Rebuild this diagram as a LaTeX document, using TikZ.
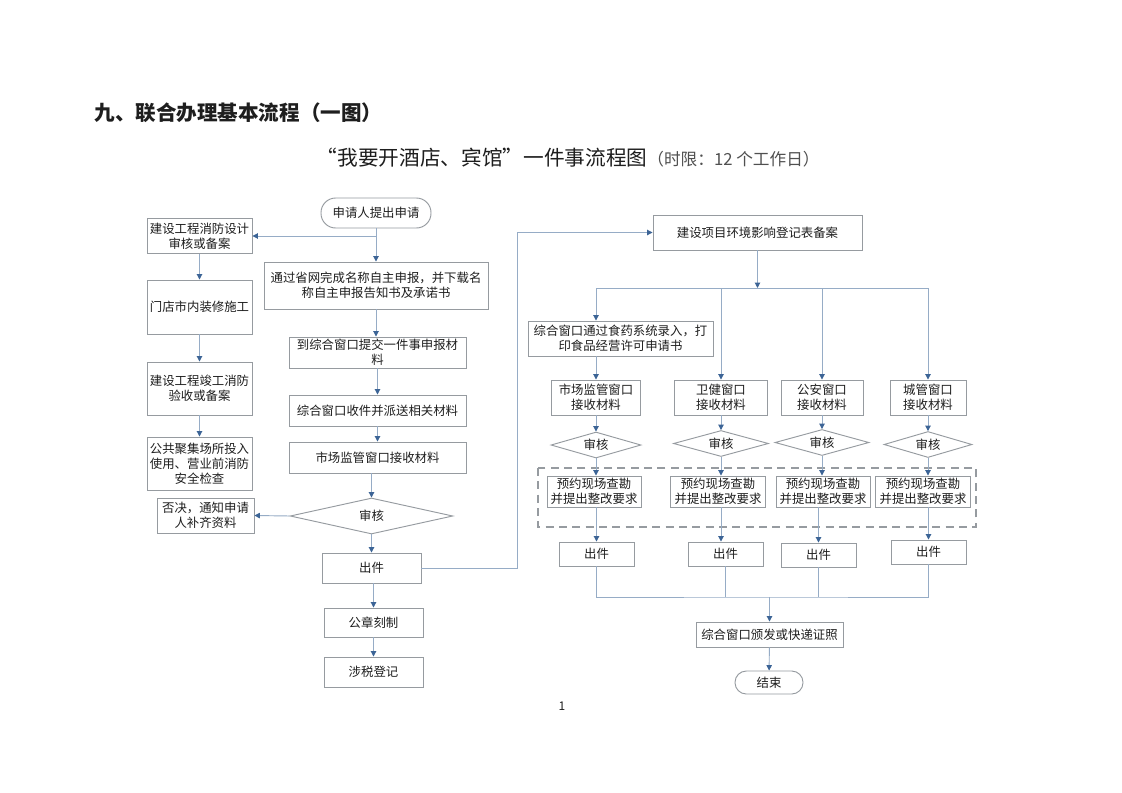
\documentclass[tikz,border=0pt]{standalone}
\usepackage{fontspec}
\setmainfont{Noto Sans CJK SC}
\usetikzlibrary{arrows.meta,shapes.geometric}
\definecolor{linkblue}{RGB}{150,172,198}
\definecolor{tipblue}{RGB}{60,100,150}
\definecolor{boxgray}{RGB}{150,155,160}
\definecolor{textdark}{RGB}{30,30,30}
\definecolor{subgray}{RGB}{80,80,80}

\begin{document}
\begin{tikzpicture}[x=0.75pt,y=-0.75pt]
\tikzset{
  box/.style={draw=boxgray, line width=0.7pt, inner sep=0pt, align=center,
    text=textdark, font=\fontsize{9.3}{11.3}\selectfont},
  startend/.style={box, rounded corners=11pt},
  decision/.style={box, diamond, aspect=4},
  link/.style={draw=linkblue, line width=0.7pt},
  arr/.style={link, -{Triangle[width=4pt,length=4pt,color=tipblue]}},
  dashbox/.style={draw=boxgray, line width=0.8pt, dash pattern=on 6pt off 4pt}
}
\useasboundingbox (0,0) rectangle (1122,793);
\fill[white] (0,0) rectangle (1122,793);

% titles
\node[anchor=west, text=textdark, font=\fontsize{15.4}{18}\selectfont\bfseries] (title) at (90,113) {九、联合办理基本流程（一图）};
\node[anchor=west, text=textdark, font=\fontsize{15.5}{18}\selectfont] (subtitle) at (312,158)
  {“我要开酒店、宾馆”一件事流程图{\fontsize{12.5}{15}\selectfont\color{subgray}（时限：12 个工作日）}};

% fire safety column
\node[box, minimum width=78.75pt, minimum height=26.25pt] (fdesign) at (199.5,236) {建设工程消防设计\\审核或备案};
\node[box, minimum width=78.75pt, minimum height=40.5pt] (decor) at (199.5,307) {门店市内装修施工};
\node[box, minimum width=78.75pt, minimum height=39.75pt] (faccept) at (199.5,388.5) {建设工程竣工消防\\验收或备案};
\node[box, minimum width=78.75pt, minimum height=39.75pt] (fcheck) at (199.5,463.5) {公共聚集场所投入\\使用、营业前消防\\安全检查};
\node[box, minimum width=72.75pt, minimum height=26.25pt] (reject) at (205.5,515.5) {否决，通知申请\\人补齐资料};

% main column
\node[startend, minimum width=82.5pt, minimum height=22.5pt] (apply) at (376,213) {申请人提出申请};
\node[box, minimum width=168pt, minimum height=35.25pt] (name) at (376,285.5) {通过省网完成名称自主申报，并下载名\\称自主申报告知书及承诺书};
\node[box, minimum width=132.75pt, minimum height=23.25pt] (submit) at (377.5,352.5) {到综合窗口提交一件事申报材\\料};
\node[box, minimum width=132.75pt, minimum height=23.25pt] (dispatch) at (377.5,410.5) {综合窗口收件并派送相关材料};
\node[box, minimum width=132.75pt, minimum height=23.25pt] (market) at (377.5,457.5) {市场监管窗口接收材料};
\node[decision, minimum width=122pt, minimum height=27pt] (audit) at (371.5,516) {审核};
\node[box, minimum width=74.25pt, minimum height=22.5pt] (issue) at (371.5,568) {出件};
\node[box, minimum width=74.25pt, minimum height=21.75pt] (seal) at (373.5,622.5) {公章刻制};
\node[box, minimum width=74.25pt, minimum height=22.5pt] (tax) at (373.5,672) {涉税登记};

% permits
\node[box, minimum width=156.75pt, minimum height=26.25pt] (env) at (757.5,232.5) {建设项目环境影响登记表备案};
\coordinate (split) at (757.5,288);
\coordinate (bend) at (517,232.5);
\node[box, minimum width=138.75pt, minimum height=26.25pt] (food) at (620.5,338.5) {综合窗口通过食药系统录入，打\\印食品经营许可申请书};

\node[box, minimum width=66.75pt, minimum height=26.25pt] (recvMarket) at (596,397.5) {市场监管窗口\\接收材料};
\node[box, minimum width=69.75pt, minimum height=26.25pt] (recvHealth) at (721,397.5) {卫健窗口\\接收材料};
\node[box, minimum width=61.5pt, minimum height=26.25pt] (recvPolice) at (822,397.5) {公安窗口\\接收材料};
\node[box, minimum width=57pt, minimum height=26.25pt] (recvCity) at (928,397.5) {城管窗口\\接收材料};

\node[decision, minimum width=67.5pt, minimum height=19.5pt] (auditMarket) at (596,445) {审核};
\node[decision, minimum width=71.25pt, minimum height=19.5pt] (auditHealth) at (721,443.5) {审核};
\node[decision, minimum width=70.5pt, minimum height=19.5pt] (auditPolice) at (822,442.5) {审核};
\node[decision, minimum width=66pt, minimum height=19.5pt] (auditCity) at (928,444.5) {审核};

\draw[dashbox] (538,468) rectangle (976,527);
\node[box, minimum width=70.5pt, minimum height=23.25pt] (surveyMarket) at (594,491.5) {预约现场查勘\\并提出整改要求};
\node[box, minimum width=71.25pt, minimum height=23.25pt] (surveyHealth) at (718,491.5) {预约现场查勘\\并提出整改要求};
\node[box, minimum width=70.5pt, minimum height=23.25pt] (surveyPolice) at (823,491.5) {预约现场查勘\\并提出整改要求};
\node[box, minimum width=71.25pt, minimum height=23.25pt] (surveyCity) at (923,491.5) {预约现场查勘\\并提出整改要求};

\node[box, minimum width=56.25pt, minimum height=18pt] (issueMarket) at (596.5,554) {出件};
\node[box, minimum width=56.25pt, minimum height=18pt] (issueHealth) at (725.5,554) {出件};
\node[box, minimum width=56.25pt, minimum height=18pt] (issuePolice) at (818.5,555) {出件};
\node[box, minimum width=56.25pt, minimum height=18pt] (issueCity) at (928.5,552) {出件};

\coordinate (merge) at (769.5,597);
\node[box, minimum width=110.25pt, minimum height=18.75pt] (license) at (769.5,634.5) {综合窗口颁发或快递证照};
\node[startend, rounded corners=8.5pt, minimum width=51pt, minimum height=17.25pt] (finish) at (769,682.5) {结束};

\node[text=textdark, font=\fontsize{9}{10}\selectfont] (pagenum) at (562,706) {1};

% connectors, left and middle
\draw[arr] (fdesign) -- (decor);
\draw[arr] (decor) -- (faccept);
\draw[arr] (faccept) -- (fcheck);
\draw[arr] (apply) -- (name);
\draw[arr] (apply.south |- fdesign.east) -- (fdesign.east);
\draw[arr] (name.south) -- (name.south |- submit.north);
\draw[arr] (submit) -- (dispatch);
\draw[arr] (dispatch) -- (market);
\draw[arr] (market.south -| audit.north) -- (audit.north);
\draw[arr] (audit.west) -- (reject.east);
\draw[arr] (audit) -- (issue);
\draw[arr] (issue.south -| seal.north) -- (seal.north);
\draw[arr] (seal) -- (tax);
\draw[arr] (issue.east) -| (bend) -- (env.west);

% connectors, right
\draw[arr] (env.south) -- (split);
\draw[arr] (split) -| (recvMarket.north |- food.north);
\draw[arr] (split) -| (recvHealth.north);
\draw[arr] (split) -| (recvPolice.north);
\draw[arr] (split) -| (recvCity.north);
\draw[arr] (food.south -| recvMarket.north) -- (recvMarket.north);
\draw[arr] (recvMarket) -- (auditMarket);
\draw[arr] (recvHealth) -- (auditHealth);
\draw[arr] (recvPolice) -- (auditPolice);
\draw[arr] (recvCity) -- (auditCity);
\draw[arr] (auditMarket.south) -- (auditMarket.south |- surveyMarket.north);
\draw[arr] (auditHealth.south) -- (auditHealth.south |- surveyHealth.north);
\draw[arr] (auditPolice.south) -- (auditPolice.south |- surveyPolice.north);
\draw[arr] (auditCity.south) -- (auditCity.south |- surveyCity.north);
\draw[arr] (issueMarket.north |- surveyMarket.south) -- (issueMarket.north);
\draw[arr] (auditHealth.south |- surveyHealth.south) -- (auditHealth.south |- issueHealth.north);
\draw[arr] (issuePolice.north |- surveyPolice.south) -- (issuePolice.north);
\draw[arr] (issueCity.north |- surveyCity.south) -- (issueCity.north);
\draw[link] (issueMarket.south) |- (merge) -| (issueCity.south);
\draw[link] (issueHealth.south) -- (issueHealth.south |- merge);
\draw[link] (issuePolice.south) -- (issuePolice.south |- merge);
\draw[arr] (merge) -- (license.north);
\draw[arr] (license) -- (finish);
\end{tikzpicture}
\end{document}
